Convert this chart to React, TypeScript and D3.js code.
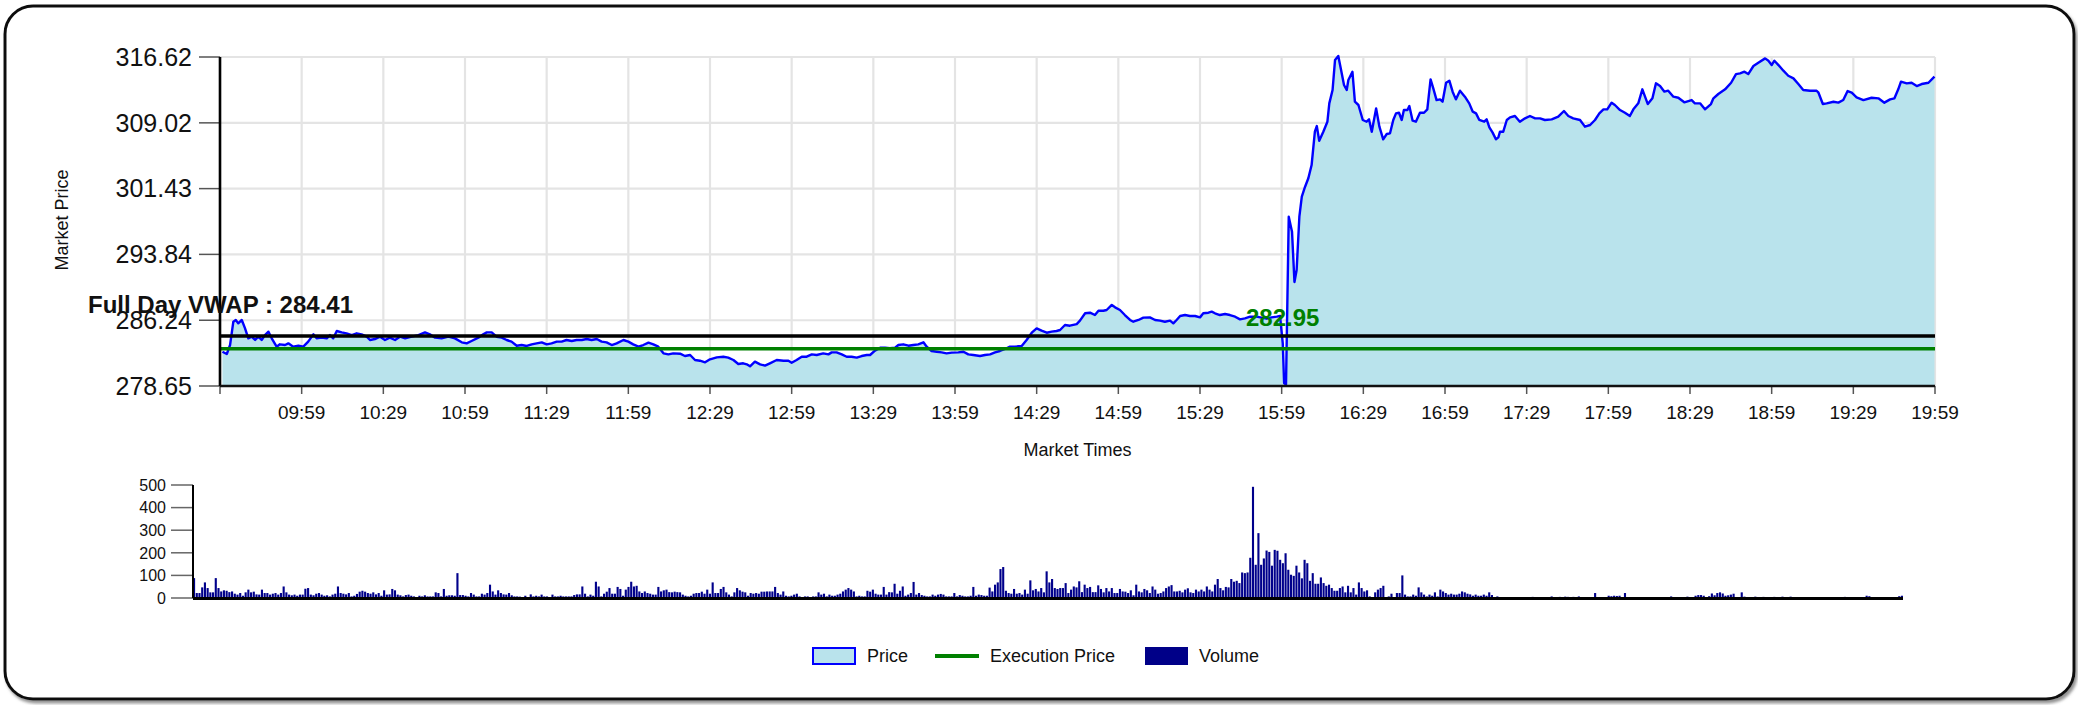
import React from "react";
import * as d3 from "d3";

const W = 2078;
const H = 705;

// ---------- data ----------
const sessionStart = "09:29";
const sessionEnd = "19:59";
const priceTicks = [278.65, 286.24, 293.84, 301.43, 309.02, 316.62];
const timeTickLabels = [
  "09:59", "10:29", "10:59", "11:29", "11:59", "12:29", "12:59", "13:29", "13:59", "14:29", "14:59",
  "15:29", "15:59", "16:29", "16:59", "17:29", "17:59", "18:29", "18:59", "19:29", "19:59",
];
const volumeTicks = [0, 100, 200, 300, 400, 500];
const fullDayVwap = 284.41;
const executionPrice = 282.95;
const executionTime = "15:59";

// minutes elapsed since session start
const priceMinutes = [
  0.9, 2.5, 3.7, 4.9, 5.8, 6.7, 8.0, 9.2, 10.4, 11.6, 12.9, 14.1, 15.3, 16.5, 17.8, 19.0, 20.8, 22.0, 23.9, 25.1,
  26.9, 28.8, 30.6, 32.4, 34.3, 35.5, 37.3, 39.2, 40.4, 41.6, 42.9, 44.7, 46.5, 48.4, 50.2, 52.0, 53.9, 55.1, 56.9, 58.8,
  60.6, 62.4, 64.3, 66.1, 68.0, 70.4, 72.9, 75.3, 77.1, 79.0, 81.4, 83.9, 86.3, 88.8, 90.6, 92.4, 94.9, 96.7, 98.0, 99.8,
  101.6, 103.5, 105.3, 107.1, 109.0, 110.8, 112.7, 114.5, 116.3, 118.2, 120.0, 121.8, 123.7, 125.5, 127.3, 129.2, 131.0, 132.9, 134.7, 136.5,
  138.4, 140.2, 142.0, 143.9, 145.7, 148.2, 150.0, 151.8, 153.7, 155.5, 157.4, 159.2, 161.0, 162.9, 164.7, 166.5, 169.0, 170.8, 172.7, 174.5,
  176.3, 178.2, 180.0, 182.5, 184.9, 186.7, 188.6, 190.4, 192.2, 193.5, 194.7, 196.5, 198.4, 200.2, 202.0, 204.5, 207.0, 208.8, 210.0, 211.8,
  213.7, 215.5, 217.4, 219.2, 221.6, 223.5, 224.7, 226.5, 228.4, 230.2, 232.0, 233.9, 235.7, 237.6, 238.8, 240.6, 242.5, 244.3, 246.1, 248.0,
  249.2, 251.0, 252.9, 254.7, 256.5, 258.4, 259.6, 261.4, 263.3, 265.1, 266.9, 268.8, 271.2, 273.1, 274.9, 276.7, 279.2, 281.0, 282.9, 284.7,
  286.5, 288.4, 290.2, 292.0, 294.5, 296.3, 298.2, 300.0, 301.8, 303.7, 305.5, 307.3, 308.6, 310.4, 312.2, 314.7, 315.9, 317.8, 319.6, 321.4,
  322.7, 324.5, 325.7, 327.6, 328.8, 330.6, 332.4, 334.3, 335.5, 337.4, 339.2, 341.6, 343.5, 345.3, 347.1, 349.0, 350.2, 351.4, 352.7, 354.5,
  356.3, 358.2, 360.0, 361.2, 363.1, 364.3, 365.5, 367.3, 369.2, 371.0, 372.9, 374.7, 376.5, 378.4, 380.8, 382.6, 384.5, 386.3, 388.2, 389.4,
  390.4, 390.9, 391.6, 392.6, 393.8, 394.7, 395.5, 396.5, 397.4, 398.6, 399.8, 401.0, 402.2, 402.9, 403.8, 405.3, 406.8, 407.5, 408.7, 409.6,
  410.8, 411.7, 412.9, 413.9, 414.5, 416.0, 416.9, 418.2, 419.8, 421.2, 422.1, 423.1, 424.7, 425.9, 427.3, 428.6, 429.8, 431.0, 432.0, 433.1,
  434.1, 434.9, 436.2, 436.9, 438.1, 439.3, 440.8, 442.3, 443.5, 444.7, 445.7, 446.9, 448.2, 449.1, 450.4, 451.6, 452.8, 454.0, 455.5, 457.3,
  458.9, 460.2, 461.4, 462.6, 464.4, 465.3, 466.3, 467.5, 468.7, 469.6, 470.2, 471.4, 472.7, 473.9, 475.7, 477.5, 479.4, 481.2, 483.1, 484.9,
  486.7, 489.2, 491.6, 493.7, 495.3, 497.1, 499.6, 501.4, 503.3, 505.1, 506.7, 508.2, 509.6, 511.2, 512.4, 514.3, 516.1, 517.9, 519.2, 521.0,
  522.5, 524.5, 526.2, 527.5, 529.0, 530.6, 532.0, 533.9, 535.7, 537.9, 540.6, 541.8, 543.7, 545.5, 547.7, 548.6, 550.4, 552.9, 555.1, 556.9,
  558.4, 560.0, 561.4, 563.3, 565.1, 567.6, 568.8, 570.0, 571.0, 572.5, 574.3, 576.1, 578.0, 579.8, 581.6, 584.1, 586.5, 587.2, 588.8, 590.2,
  592.7, 594.5, 596.3, 597.9, 599.4, 601.2, 603.7, 606.7, 609.2, 611.4, 613.5, 615.1, 616.5, 617.5, 619.6, 621.4, 623.3, 625.1, 627.6, 629.8,
];

const priceValues = [
  282.61, 282.34, 283.38, 286.07, 286.27, 285.88, 286.27, 285.30, 284.15, 284.34, 283.96, 284.34, 283.96, 284.53, 284.92, 284.15, 283.19, 283.46, 283.38, 283.57,
  283.19, 283.30, 283.19, 283.77, 284.61, 284.15, 284.23, 284.15, 284.53, 284.15, 285.00, 284.84, 284.73, 284.53, 284.73, 284.61, 284.34, 283.96, 284.07, 284.34,
  283.96, 284.23, 283.96, 284.34, 284.15, 284.34, 284.53, 284.84, 284.61, 284.23, 284.15, 284.34, 284.15, 283.69, 283.57, 283.84, 284.23, 284.61, 284.84, 284.84,
  284.34, 284.23, 283.96, 283.77, 283.30, 283.38, 283.27, 283.46, 283.57, 283.69, 283.46, 283.57, 283.77, 283.77, 283.96, 283.84, 283.96, 283.96, 284.07, 283.96,
  284.07, 283.77, 283.69, 283.38, 283.57, 283.96, 283.77, 283.46, 283.19, 283.38, 283.65, 283.46, 283.19, 282.42, 282.30, 282.42, 282.38, 282.11, 282.23, 281.65,
  281.57, 281.38, 281.73, 281.96, 282.03, 281.92, 281.65, 281.19, 281.27, 281.15, 280.92, 281.46, 281.15, 281.00, 281.27, 281.65, 281.57, 281.57, 281.34, 281.65,
  282.03, 282.03, 282.30, 282.23, 282.42, 282.30, 282.53, 282.53, 282.30, 282.03, 282.03, 281.92, 282.11, 282.23, 282.23, 282.73, 283.07, 283.07, 283.00, 283.07,
  283.38, 283.46, 283.30, 283.38, 283.46, 283.69, 283.19, 282.69, 282.61, 282.53, 282.42, 282.50, 282.53, 282.61, 282.30, 282.23, 282.11, 282.23, 282.30, 282.53,
  282.69, 282.92, 283.19, 283.19, 283.27, 283.96, 284.80, 285.30, 285.04, 284.80, 284.92, 285.00, 285.11, 285.69, 285.61, 285.80, 286.19, 287.04, 287.11, 286.84,
  287.34, 287.34, 287.42, 288.00, 287.73, 287.42, 286.84, 286.27, 286.07, 286.27, 286.54, 286.57, 286.27, 286.19, 286.07, 286.19, 285.88, 286.27, 286.73, 286.84,
  286.73, 286.73, 286.57, 287.04, 287.11, 287.23, 287.04, 286.84, 286.96, 286.84, 286.65, 286.34, 286.46, 286.65, 286.65, 286.54, 286.42, 286.57, 286.65, 286.73,
  283.57, 278.96, 278.84, 298.19, 296.46, 290.65, 292.04, 298.19, 300.50, 301.65, 302.62, 304.15, 308.00, 308.65, 306.96, 308.00, 309.15, 311.27, 312.81, 316.27,
  316.73, 315.31, 313.39, 312.81, 313.96, 314.92, 311.46, 311.08, 309.35, 309.15, 309.42, 308.00, 310.69, 308.58, 307.12, 307.73, 307.81, 309.35, 310.11, 310.19,
  309.35, 310.50, 310.50, 310.96, 309.27, 309.15, 310.19, 310.19, 310.58, 314.04, 313.00, 311.65, 311.73, 311.46, 313.65, 313.89, 312.62, 311.73, 312.73, 312.04,
  311.27, 310.31, 310.11, 309.35, 309.15, 309.42, 308.50, 307.89, 307.12, 307.35, 308.00, 308.00, 309.35, 309.65, 309.81, 309.15, 309.54, 309.81, 309.54, 309.54,
  309.35, 309.42, 309.73, 310.39, 309.81, 309.54, 309.35, 308.58, 308.77, 309.35, 310.11, 310.58, 310.58, 311.35, 311.08, 310.50, 310.19, 309.81, 310.58, 311.27,
  312.89, 311.19, 311.85, 313.58, 313.27, 312.62, 312.73, 312.04, 311.92, 311.39, 311.65, 311.27, 311.27, 310.58, 311.19, 311.85, 312.35, 312.89, 313.65, 314.65,
  314.73, 314.92, 314.65, 315.58, 315.96, 316.46, 316.19, 315.69, 316.19, 315.69, 315.04, 314.46, 314.15, 313.50, 312.81, 312.73, 312.73, 312.50, 311.19, 311.27,
  311.46, 311.35, 311.65, 312.69, 312.50, 311.96, 311.65, 311.92, 311.85, 311.35, 311.73, 311.85, 312.89, 313.77, 313.58, 313.65, 313.27, 313.50, 313.65, 314.35,
];

// one bar per minute of the session
const volumes = [
  88, 22, 22, 47, 69, 44, 25, 25, 88, 44, 29, 34, 32, 26, 29, 19, 15, 22, 10, 25,
  37, 25, 28, 16, 15, 37, 22, 22, 15, 19, 22, 15, 22, 51, 25, 15, 12, 15, 10, 15,
  15, 41, 44, 15, 12, 19, 22, 15, 10, 12, 7, 15, 19, 51, 22, 19, 16, 22, 7, 10,
  18, 28, 32, 28, 22, 19, 25, 16, 22, 10, 34, 15, 16, 40, 34, 15, 12, 7, 13, 15,
  10, 7, 4, 10, 7, 12, 7, 7, 7, 25, 22, 7, 40, 10, 12, 12, 10, 110, 13, 13,
  10, 7, 22, 15, 7, 7, 19, 15, 22, 59, 29, 15, 34, 22, 16, 15, 22, 12, 7, 7,
  6, 4, 10, 4, 16, 7, 10, 7, 15, 7, 7, 4, 15, 7, 7, 10, 7, 7, 7, 7,
  13, 16, 16, 51, 19, 7, 15, 10, 72, 51, 7, 19, 28, 44, 19, 19, 49, 40, 10, 37,
  49, 72, 51, 54, 29, 22, 29, 22, 19, 15, 15, 49, 29, 34, 37, 26, 25, 28, 26, 25,
  15, 10, 7, 10, 19, 22, 22, 28, 19, 37, 19, 69, 22, 22, 40, 49, 25, 15, 7, 25,
  44, 34, 28, 25, 10, 22, 19, 22, 19, 28, 28, 29, 29, 29, 49, 22, 15, 29, 10, 7,
  10, 15, 19, 7, 4, 7, 7, 4, 7, 7, 25, 15, 19, 7, 15, 10, 10, 15, 19, 29,
  37, 44, 37, 29,
  7, 10, 7, 7, 32, 28, 37, 19, 15, 15, 49, 15, 26, 25, 63, 19, 32, 51, 10, 15,
  22, 71, 15, 22, 13, 10, 7, 7, 15, 10, 15, 18, 15, 7, 7, 7, 22, 7, 13, 10,
  7, 7, 10, 49, 10, 15, 13, 10, 10, 46, 29, 59, 69, 128, 137, 32, 22, 19, 40, 19,
  22, 15, 37, 19, 78, 34, 40, 29, 44, 25, 118, 69, 84, 44, 40, 44, 44, 66, 22, 37,
  51, 47, 74, 26, 59, 44, 49, 26, 26, 56, 40, 25, 44, 29, 44, 22, 22, 40, 29, 28,
  22, 34, 12, 59, 29, 25, 40, 34, 22, 51, 37, 19, 22, 29, 44, 51, 57, 29, 29, 32,
  25, 37, 43, 25, 22, 37, 29, 37, 29, 51, 37, 29, 59, 84, 44, 34, 49, 47, 84, 72,
  76, 66, 113, 110, 113, 178, 492, 147, 287, 147, 175, 210, 204, 143, 213, 209, 169, 154, 198, 125,
  103, 98, 143, 113, 87, 169, 154, 76, 110, 63, 63, 91, 66, 54, 59, 44, 32, 32, 44, 51,
  25, 54, 25, 44, 15, 69, 44, 29, 34, 7, 4, 25, 37, 44, 54, 4, 7, 19, 4, 22,
  22, 100, 15, 7, 7, 15, 10, 47, 25, 15, 7, 15, 10, 25, 7, 37, 29, 22, 15, 19,
  15, 15, 19, 29, 25, 19, 16, 10, 15, 10, 10, 15, 10, 25, 13, 4, 7, 3, 2,
  2, 1, 0, 1, 4, 0, 1, 0, 0, 1, 5, 0, 1, 0, 0, 1, 2, 7, 1, 0,
  5, 4, 6, 5, 4, 5, 0, 7, 1, 0, 2, 3, 1, 22, 2, 0, 1, 3, 10, 8,
  10, 9, 10, 2, 22, 3, 0, 1, 0, 1, 0, 0, 1, 0, 0, 1, 0, 0, 1, 0,
  0, 7, 1, 0, 2, 0, 1, 6, 2, 4, 10, 13, 13, 10, 4, 8, 20, 12, 22, 25,
  20, 10, 12, 15, 19, 3, 4, 25, 6, 2, 1, 1, 6, 4, 3, 5, 2, 4, 3, 5,
  2, 4, 6, 2, 3, 6, 2, 0, 1, 0, 0, 1, 0, 0, 1, 0, 0, 1, 0, 0,
  1, 0, 0, 0, 0, 5, 0, 1, 0, 0, 1, 0, 0, 10, 8, 1, 0, 0, 0, 0,
  0, 0, 0, 0, 0, 8, 10,
];

const legendItems = ["Price", "Execution Price", "Volume"];

// ---------- helpers ----------
const toMin = (s: string) => {
  const [h, m] = s.split(":").map(Number);
  return h * 60 + m;
};
const startMin = toMin(sessionStart);
const sessionLength = toMin(sessionEnd) - startMin;

const FONT = "'Liberation Sans', Arial, sans-serif";

export default function App() {
  const plot = { left: 220, right: 1935, top: 57, bottom: 386 };
  const vplot = { left: 193, right: 1903, top: 485, bottom: 598 };

  const x = d3.scaleLinear().domain([0, sessionLength]).range([plot.left, plot.right]);
  const y = d3
    .scaleLinear()
    .domain([priceTicks[0], priceTicks[priceTicks.length - 1]])
    .range([plot.bottom, plot.top]);

  const pts: [number, number][] = priceMinutes.map((m, i) => [m, priceValues[i]]);
  const area = d3
    .area<[number, number]>()
    .x((d) => x(d[0]))
    .y0(y(priceTicks[0]))
    .y1((d) => y(d[1]));
  const line = d3
    .line<[number, number]>()
    .x((d) => x(d[0]))
    .y((d) => y(d[1]));

  const tickMins = [0, ...timeTickLabels.map((t) => toMin(t) - startMin)];

  const xv = d3
    .scaleBand<number>()
    .domain(d3.range(volumes.length))
    .range([vplot.left, vplot.right])
    .paddingInner(0.22);
  const yv = d3
    .scaleLinear()
    .domain([volumeTicks[0], volumeTicks[volumeTicks.length - 1]])
    .range([vplot.bottom, vplot.top]);

  const execX = x(toMin(executionTime) - startMin);

  return (
    <svg
      width={W}
      height={H}
      style={{ position: "absolute", left: 0, top: 0, background: "#fff" }}
      fontFamily={FONT}
    >
      <defs>
        <filter id="shadow" x="-5%" y="-5%" width="110%" height="115%">
          <feDropShadow dx="2" dy="3" stdDeviation="1.6" floodColor="#777" floodOpacity="0.8" />
        </filter>
      </defs>
      <rect
        x={5}
        y={6}
        width={2069}
        height={693}
        rx={28}
        ry={28}
        fill="#fff"
        stroke="#111"
        strokeWidth={3}
        filter="url(#shadow)"
      />

      {/* grid */}
      <g stroke="#e4e4e4" strokeWidth={2.2}>
        {priceTicks.map((t) => (
          <line key={"h" + t} x1={plot.left} x2={plot.right} y1={y(t)} y2={y(t)} />
        ))}
        {tickMins.map((m) => (
          <line key={"v" + m} x1={x(m)} x2={x(m)} y1={plot.top} y2={plot.bottom} />
        ))}
      </g>

      {/* price area & line */}
      <path d={area(pts) || ""} fill="#b9e3ec" />
      <path d={line(pts) || ""} fill="none" stroke="#0000ff" strokeWidth={2.4} strokeLinejoin="round" />

      {/* reference lines */}
      <line x1={plot.left} x2={plot.right} y1={y(fullDayVwap)} y2={y(fullDayVwap)} stroke="#000" strokeWidth={3.5} />
      <line x1={plot.left} x2={plot.right} y1={y(executionPrice)} y2={y(executionPrice)} stroke="#008000" strokeWidth={3.5} />

      {/* axes */}
      <g stroke="#555" strokeWidth={1.5}>
        {priceTicks.map((t) => (
          <line key={"yt" + t} x1={plot.left - 21} x2={plot.left} y1={y(t)} y2={y(t)} />
        ))}
        {tickMins.map((m) => (
          <line key={"xt" + m} x1={x(m)} x2={x(m)} y1={plot.bottom} y2={plot.bottom + 8} />
        ))}
      </g>
      <line x1={plot.left} x2={plot.left} y1={plot.top} y2={plot.bottom} stroke="#000" strokeWidth={2.6} />
      <line x1={plot.left} x2={plot.right} y1={plot.bottom} y2={plot.bottom} stroke="#111" strokeWidth={2.6} />

      {priceTicks.map((t) => (
        <text key={"yl" + t} x={plot.left - 28} y={y(t)} dy="0.35em" textAnchor="end" fontSize={25} fill="#111">
          {t.toFixed(2)}
        </text>
      ))}
      {timeTickLabels.map((lab) => (
        <text key={"xl" + lab} x={x(toMin(lab) - startMin)} y={419} textAnchor="middle" fontSize={19} fill="#111">
          {lab}
        </text>
      ))}
      <text x={(plot.left + plot.right) / 2} y={456} textAnchor="middle" fontSize={18} fill="#111">
        Market Times
      </text>
      <text transform={`translate(68,220) rotate(-90)`} textAnchor="middle" fontSize={18} fill="#111">
        Market Price
      </text>

      {/* annotations */}
      <text x={88} y={313} fontSize={24} fontWeight="bold" fill="#111">
        {`Full Day VWAP : ${fullDayVwap.toFixed(2)}`}
      </text>
      <text x={execX + 1} y={326} textAnchor="middle" fontSize={24} fontWeight="bold" fill="#008000">
        {executionPrice.toFixed(2)}
      </text>

      {/* volume */}
      <g fill="#00008b">
        {volumes.map((v, i) => (
          <rect key={"b" + i} x={xv(i)} y={yv(v)} width={xv.bandwidth()} height={vplot.bottom - yv(v)} />
        ))}
      </g>
      <g stroke="#666" strokeWidth={1.5}>
        {volumeTicks.map((t) => (
          <line key={"vt" + t} x1={vplot.left - 22} x2={vplot.left} y1={yv(t)} y2={yv(t)} />
        ))}
      </g>
      {volumeTicks.map((t) => (
        <text key={"vl" + t} x={vplot.left - 27} y={yv(t)} dy="0.36em" textAnchor="end" fontSize={16} fill="#111">
          {t}
        </text>
      ))}
      <line x1={vplot.left} x2={vplot.left} y1={vplot.top} y2={vplot.bottom} stroke="#000" strokeWidth={2} />
      <line x1={vplot.left} x2={vplot.right} y1={vplot.bottom + 0.5} y2={vplot.bottom + 0.5} stroke="#000" strokeWidth={3} />

      {/* legend */}
      <g fontSize={18} fill="#111">
        <rect x={813} y={648} width={42} height={16} fill="#b9e3ec" stroke="#0000ff" strokeWidth={2} />
        <text x={867} y={662}>{legendItems[0]}</text>
        <line x1={935} x2={979} y1={656} y2={656} stroke="#008000" strokeWidth={4} />
        <text x={990} y={662}>{legendItems[1]}</text>
        <rect x={1145} y={647} width={43} height={18} fill="#000088" />
        <text x={1199} y={662}>{legendItems[2]}</text>
      </g>
    </svg>
  );
}
